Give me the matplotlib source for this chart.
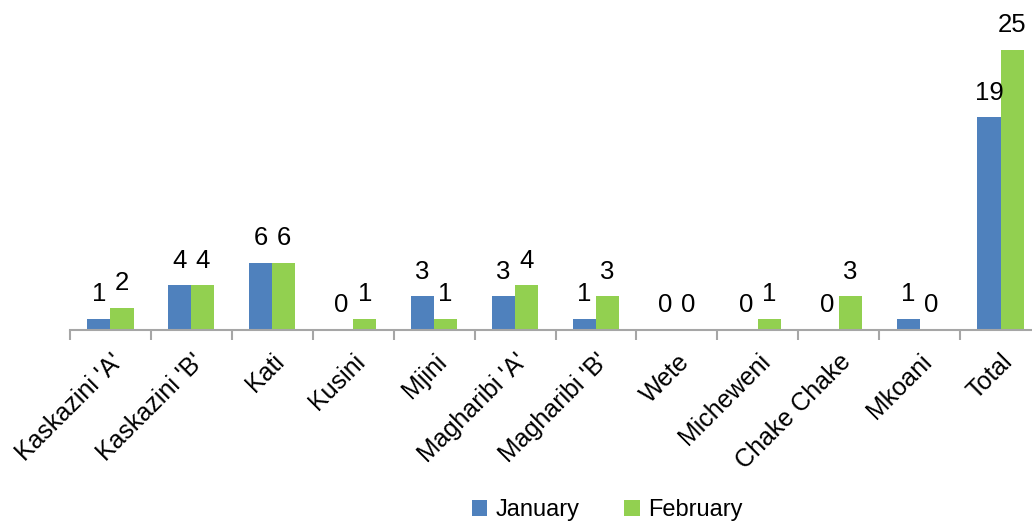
import numpy as np
from matplotlib import pyplot as plt

plt.rcParams['font.family'] = ['Liberation Sans Narrow', 'Liberation Sans', 'DejaVu Sans']

categories = ["Kaskazini 'A'", "Kaskazini 'B'", "Kati", "Kusini", "Mjini",
              "Magharibi 'A'", "Magharibi 'B'", "Wete", "Micheweni",
              "Chake Chake", "Mkoani", "Total"]
january = [1, 4, 6, 0, 3, 3, 1, 0, 0, 0, 1, 19]
february = [2, 4, 6, 1, 1, 4, 3, 0, 1, 3, 0, 25]

W, H = 1032, 528
fig = plt.figure(figsize=(W / 100, H / 100), dpi=100)
# axes runs a bit past the right edge, like the reference crop
ax = fig.add_axes([70 / W, 198 / H, 971 / W, 280 / H])

x = np.arange(len(categories))
bw = 0.285
b1 = ax.bar(x - bw / 2, january, bw, color='#4F81BD', label='January')
b2 = ax.bar(x + bw / 2, february, bw, color='#92D050', label='February')

for bars, vals in ((b1, january), (b2, february)):
    for rect, v in zip(bars, vals):
        ax.annotate(str(v), (rect.get_x() + rect.get_width() / 2, v),
                    xytext=(0, 9), textcoords='offset points',
                    ha='center', va='bottom', fontsize=18.5, clip_on=False)

ax.set_xlim(-0.5, len(categories) - 0.5)
ax.set_ylim(0, 25)
for s in ('top', 'right', 'left'):
    ax.spines[s].set_visible(False)
ax.spines['bottom'].set_color('#A6A6A6')
ax.spines['bottom'].set_linewidth(1.5)
ax.set_yticks([])

ax.set_xticks(np.arange(len(categories) + 1) - 0.5, minor=False)
ax.set_xticklabels([])
ax.tick_params(axis='x', which='major', direction='out', length=7,
               width=1.5, color='#A6A6A6')
ax.set_xticks(x, minor=True)
ax.set_xticklabels(categories, minor=True, rotation=45, ha='right',
                   rotation_mode='anchor', fontsize=18)
ax.tick_params(axis='x', which='minor', length=0, pad=14)

fig.legend(loc='center', bbox_to_anchor=(607 / W, 18 / H), ncol=2,
           frameon=False, fontsize=17, handlelength=0.65, handleheight=0.65,
           handletextpad=0.35, columnspacing=1.9)

fig.savefig('out.png', dpi=100)
